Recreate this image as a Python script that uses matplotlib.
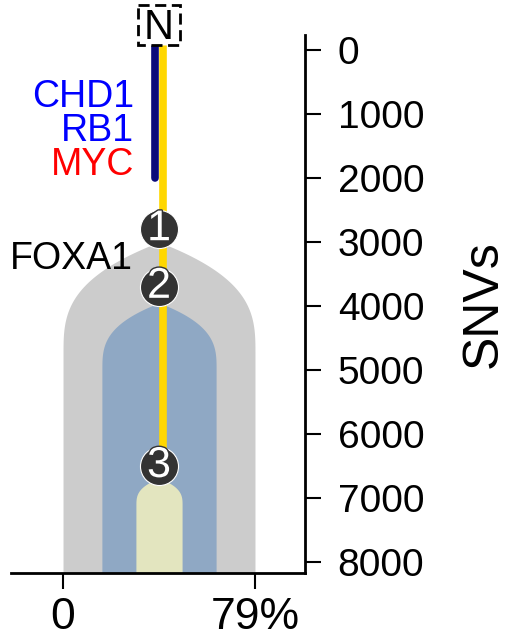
import numpy as np
import matplotlib.pyplot as plt
import matplotlib.patheffects as pe
from matplotlib.patches import Rectangle

plt.rcParams['font.family'] = ['Liberation Sans', 'DejaVu Sans']

# clones: cellular fraction (%) and the SNV count where each clone starts
clone_frac = [79, 47, 19]
clone_start = [3000, 3950, 6690]
clone_colors = ['#cccccc', '#8fa8c4', '#e3e5bf']

# numbered nodes on the trunk (SNVs)
node_labels = ['1', '2', '3']
node_snvs = [2800, 3700, 6500]

# branches: start / end in SNVs
trunk_start = -80
navy_end = 2000
yellow_end = 6500

# driver genes
genes = ['CHD1', 'RB1', 'MYC']
gene_colors = ['blue', 'blue', 'red']
gene_snvs = [730, 1270, 1790]
foxa1_snvs = 3265

yticks = [0, 1000, 2000, 3000, 4000, 5000, 6000, 7000, 8000]

fig = plt.figure(figsize=(5.27, 6.44), dpi=100)
ax = fig.add_axes([0.0209, 0.1102, 0.5579, 0.8354])
ax.set_xlim(-21.4, 99.6)
ax.set_ylim(8172, -234)

cx = clone_frac[0] / 2          # centre of the tree
y_bottom = 8172

# clone shapes: pointed top that widens out to the full fraction
for frac, start, col in zip(clone_frac, clone_start, clone_colors):
    h = 22 * frac                   # height of the widening part
    y = np.linspace(start, y_bottom, 400)
    t = np.clip((y - start) / h, 0, 1)
    hw = frac / 2 * (1 - (1 - t) ** 3)
    ax.fill_betweenx(y, cx - hw, cx + hw, color=col, lw=0, zorder=1)

# trunk lines
off = 1.65
ax.plot([cx + off, cx + off], [trunk_start, yellow_end], color='#ffd700',
        lw=5.5, solid_capstyle='round', zorder=3)
ax.plot([cx - off, cx - off], [trunk_start, navy_end], color='#0a0a7a',
        lw=5.5, solid_capstyle='round', zorder=3)

# nodes
ax.scatter([cx] * len(node_snvs), node_snvs, s=750, color='#333333',
           edgecolor='white', linewidth=0.8, zorder=4)
for lab, yy in zip(node_labels, node_snvs):
    ax.text(cx, yy, lab, color='white', fontsize=31, ha='center', va='center',
            zorder=5, path_effects=[pe.withStroke(linewidth=2, foreground='#333333')])

# gene labels
for g, c, yy in zip(genes, gene_colors, gene_snvs):
    ax.text(29.2, yy, g, color=c, fontsize=27, ha='right', va='center', zorder=5)
ax.text(28.8, foxa1_snvs, 'FOXA1', color='black', fontsize=27,
        ha='right', va='center', zorder=5)

# normal (root) box
ax.add_patch(Rectangle((30.9, -703), 17.2, 625, fc='white', ec='black', lw=2,
                       ls=(0, (4, 2)), clip_on=False, zorder=6))
ax.text(cx, -340, 'N', fontsize=30, ha='center', va='center', clip_on=False, zorder=7)

# axes styling
for s in ['left', 'top']:
    ax.spines[s].set_visible(False)
for s in ['right', 'bottom']:
    ax.spines[s].set_linewidth(2)
ax.yaxis.tick_right()
ax.set_yticks(yticks)
ax.set_yticklabels([str(v) for v in yticks])
ax.tick_params(axis='y', length=11.5, width=1.5, pad=12, labelsize=28)
ax.set_xticks([0, clone_frac[0]])
ax.set_xticklabels(['0', f'{clone_frac[0]}%'])
ax.tick_params(axis='x', length=11.5, width=1.5, pad=6, labelsize=32)

ax.yaxis.set_label_position('right')
ax.set_ylabel('SNVs', fontsize=36)
ax.yaxis.set_label_coords(1.53, 0.5)

fig.savefig('out.png', dpi=100)
